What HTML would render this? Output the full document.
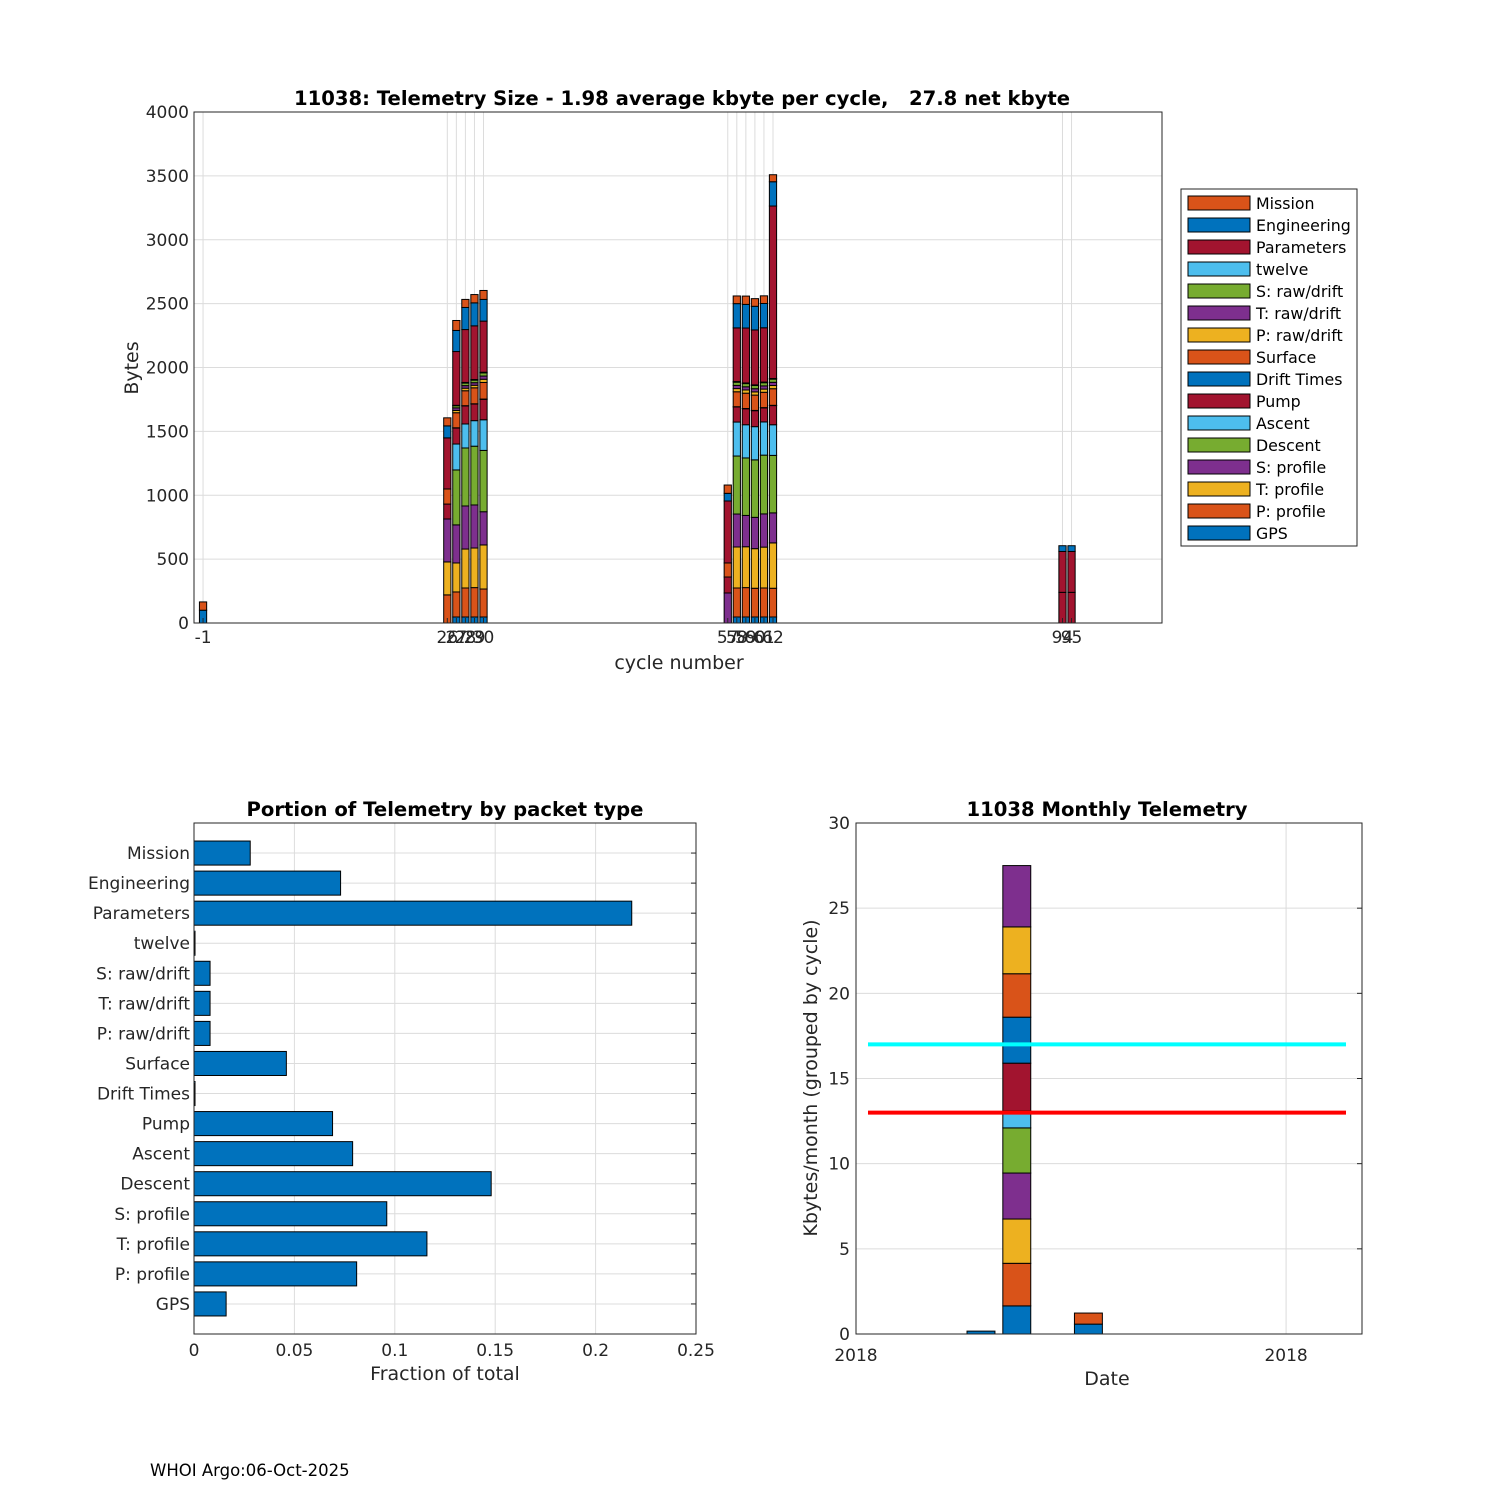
<!DOCTYPE html>
<html><head><meta charset="utf-8"><style>
body{margin:0;background:#fff}
svg{font-family:"DejaVu Sans","Liberation Sans",sans-serif}
text{white-space:pre}
</style></head><body>
<svg id="s" width="1500" height="1500" xmlns="http://www.w3.org/2000/svg"></svg>
<script>
const cycles=[-1,26,27,28,29,30,57,58,59,60,61,62,94,95];
const sGPS=[0,0,47,47,47,47,0,47,47,47,47,47,0,0];
const sPprof=[0,220,196,227,230,219,0,227,230,225,227,225,0,0];
const sTprof=[0,258,227,305,310,345,0,321,320,310,320,355,0,0];
const sSprof=[0,336,298,337,337,260,235,258,245,245,260,235,0,0];
const sDesc=[0,0,430,454,460,480,0,454,450,450,460,450,0,0];
const sAsc=[0,0,203,188,200,240,0,266,260,260,260,240,0,0];
const sPump=[0,117,125,141,130,160,125,118,125,125,110,150,240,240];
const sDrift=[0,0,2,2,2,2,0,2,2,2,2,2,0,0];
const sSurf=[0,118,118,117,125,130,110,117,120,120,120,130,0,0];
const sPraw=[0,0,18,20,20,25,0,25,25,25,25,25,0,0];
const sTraw=[0,0,20,20,20,25,0,25,25,25,25,25,0,0];
const sSraw=[0,0,17,20,20,25,0,25,25,25,25,25,0,0];
const sTwelve=[0,0,3,5,5,5,0,5,5,5,5,5,0,0];
const sParams=[0,400,421,414,420,400,485,420,430,430,425,1350,320,320];
const sEng=[100,94,165,173,180,170,60,190,185,185,190,190,45,45];
const sMission=[65,63,78,63,65,70,65,60,65,60,60,55,0,0];
const seriesNames=["GPS","P: profile","T: profile","S: profile","Descent","Ascent","Pump","Drift Times","Surface","P: raw/drift","T: raw/drift","S: raw/drift","twelve","Parameters","Engineering","Mission"];
const yTicksTop=[0,500,1000,1500,2000,2500,3000,3500,4000];
const fractions=[0.016,0.081,0.116,0.096,0.148,0.079,0.069,0.0005,0.046,0.008,0.008,0.008,0.0005,0.218,0.073,0.028];
const xTicksFrac=[0,0.05,0.1,0.15,0.2,0.25];
const monthPos=[0,1,3];
const monthStacks=[[0.17],[1.65,2.5,2.6,2.7,2.65,1.0,2.8,2.7,2.55,2.75,3.6],[0.58,0.65]];
const monthTicks=[-3.49,8.52];
const monthTickLabels=["2018","2018"];
const yTicksMonth=[0,5,10,15,20,25,30];
const lineCyan=17, lineRed=13;

const C=["#0072BD","#D95319","#EDB120","#7E2F8E","#77AC30","#4DBEEE","#A2142F"];
const S=document.getElementById('s');
function el(t,a,txt){const e=document.createElementNS("http://www.w3.org/2000/svg",t);for(const k in a)e.setAttribute(k,a[k]);if(txt!==undefined)e.textContent=txt;S.appendChild(e);return e;}

// ---- top chart
const L=194,R=1162,T=112,B=623,xmin=-2,xmax=105;
const X=v=>L+(v-xmin)/(xmax-xmin)*(R-L), Y=v=>B-v/4000*(B-T);
for(const c of cycles){const g=el('line',{x1:X(c),x2:X(c),y1:T,y2:B,stroke:'#dcdcdc'});}
for(const v of yTicksTop){const g=el('line',{x1:L,x2:R,y1:Y(v),y2:Y(v),stroke:'#dcdcdc'});
 const t=el('text',{x:L-5,y:Y(v)+6,'text-anchor':'end','font-size':17,fill:'#262626'},v);}
const allS=[sGPS,sPprof,sTprof,sSprof,sDesc,sAsc,sPump,sDrift,sSurf,sPraw,sTraw,sSraw,sTwelve,sParams,sEng,sMission];
cycles.forEach((c,i)=>{let base=0;allS.forEach((ser,j)=>{const v=ser[i];if(v<=0)return;
 const r=el('rect',{x:X(c)-0.4*(R-L)/(xmax-xmin),y:Y(base+v),width:0.8*(R-L)/(xmax-xmin),height:Y(base)-Y(base+v),fill:C[j%7],stroke:'#000','stroke-width':1});
 base+=v;});
 const t=el('text',{x:X(c),y:B+20,'text-anchor':'middle','font-size':17,fill:'#262626'},c);
 el('line',{x1:X(c),x2:X(c),y1:B,y2:B-5,stroke:'#262626'});});
el('rect',{x:L,y:T,width:R-L,height:B-T,fill:'none',stroke:'#262626'});
let t=el('text',{x:682,y:105,'text-anchor':'middle','font-size':19.6,'font-weight':'bold',fill:'#000'},"11038: Telemetry Size - 1.98 average kbyte per cycle,   27.8 net kbyte");

t=el('text',{x:679,y:669,'text-anchor':'middle','font-size':19,fill:'#262626'},"cycle number");
t=el('text',{x:138,y:368,'text-anchor':'middle','font-size':19,fill:'#262626',transform:'rotate(-90 138 368)'},"Bytes");
// legend
const lg=el('rect',{x:1181,y:189,width:176,height:357,fill:'#fff',stroke:'#262626'});
for(let k=0;k<16;k++){const j=15-k,y=203+k*22;
 el('rect',{x:1188,y:y-7,width:62,height:14,fill:C[j%7],stroke:'#000'});
 const tt=el('text',{x:1256,y:y+6,'font-size':15.8,fill:'#000'},seriesNames[j]);}

// ---- bottom-left
const L2=194,R2=696,T2=823,B2=1334;
const X2=v=>L2+v/0.25*(R2-L2), Y2=p=>B2-p/17*(B2-T2);
for(const v of xTicksFrac){el('line',{x1:X2(v),x2:X2(v),y1:T2,y2:B2,stroke:'#dcdcdc'});
 t=el('text',{x:X2(v),y:B2+22,'text-anchor':'middle','font-size':17,fill:'#262626'},v);}
fractions.forEach((f,i)=>{const p=i+1;el('line',{x1:L2,x2:R2,y1:Y2(p),y2:Y2(p),stroke:'#dcdcdc'});
 el('line',{x1:R2,x2:R2-5,y1:Y2(p),y2:Y2(p),stroke:'#262626'});
 const r=el('rect',{x:L2,y:Y2(p)-0.4*30.06,width:X2(f)-L2,height:0.8*30.06,fill:C[0],stroke:'#000'});
 const tt=el('text',{x:L2-4,y:Y2(p)+6,'text-anchor':'end','font-size':17,fill:'#262626'},seriesNames[i]);});
el('rect',{x:L2,y:T2,width:R2-L2,height:B2-T2,fill:'none',stroke:'#262626'});
t=el('text',{x:445,y:816,'text-anchor':'middle','font-size':19.6,'font-weight':'bold'},"Portion of Telemetry by packet type");
t=el('text',{x:445,y:1380,'text-anchor':'middle','font-size':19,fill:'#262626'},"Fraction of total");

// ---- bottom-right
const L3=856,R3=1362,T3=823,B3=1334,mmin=-3.49,mmax=10.64;
const X3=v=>L3+(v-mmin)/(mmax-mmin)*(R3-L3), Y3=v=>B3-v/30*(B3-T3);
for(const v of yTicksMonth){el('line',{x1:L3,x2:R3,y1:Y3(v),y2:Y3(v),stroke:'#dcdcdc'});
 el('line',{x1:R3,x2:R3-5,y1:Y3(v),y2:Y3(v),stroke:'#262626'});
 t=el('text',{x:L3-6,y:Y3(v)+6,'text-anchor':'end','font-size':17,fill:'#262626'},v);}
monthTicks.forEach((m,i)=>{el('line',{x1:X3(m),x2:X3(m),y1:T3,y2:B3,stroke:'#dcdcdc'});
 t=el('text',{x:X3(m),y:B3+27,'text-anchor':'middle','font-size':17,fill:'#262626'},monthTickLabels[i]);});
const mw=(R3-L3)/(mmax-mmin);
monthPos.forEach((m,i)=>{let base=0;monthStacks[i].forEach((v,j)=>{
 const r=el('rect',{x:X3(m)-0.39*mw,y:Y3(base+v),width:0.78*mw,height:Y3(base)-Y3(base+v),fill:C[j%7],stroke:'#000'});
 base+=v;});});
t=el('line',{x1:868,x2:1346,y1:Y3(lineCyan),y2:Y3(lineCyan),stroke:'#00FFFF','stroke-width':4});
t=el('line',{x1:868,x2:1346,y1:Y3(lineRed),y2:Y3(lineRed),stroke:'#FF0000','stroke-width':4});
el('rect',{x:L3,y:T3,width:R3-L3,height:B3-T3,fill:'none',stroke:'#262626'});
t=el('text',{x:1107,y:816,'text-anchor':'middle','font-size':19.6,'font-weight':'bold'},"11038 Monthly Telemetry");
t=el('text',{x:1107,y:1385,'text-anchor':'middle','font-size':19,fill:'#262626'},"Date");
t=el('text',{x:817,y:1078,'text-anchor':'middle','font-size':19,fill:'#262626',transform:'rotate(-90 817 1078)'},"Kbytes/month (grouped by cycle)");

t=el('text',{x:150,y:1476,'font-size':16.5,fill:'#000'},"WHOI Argo:06-Oct-2025");
</script>
</body></html>
